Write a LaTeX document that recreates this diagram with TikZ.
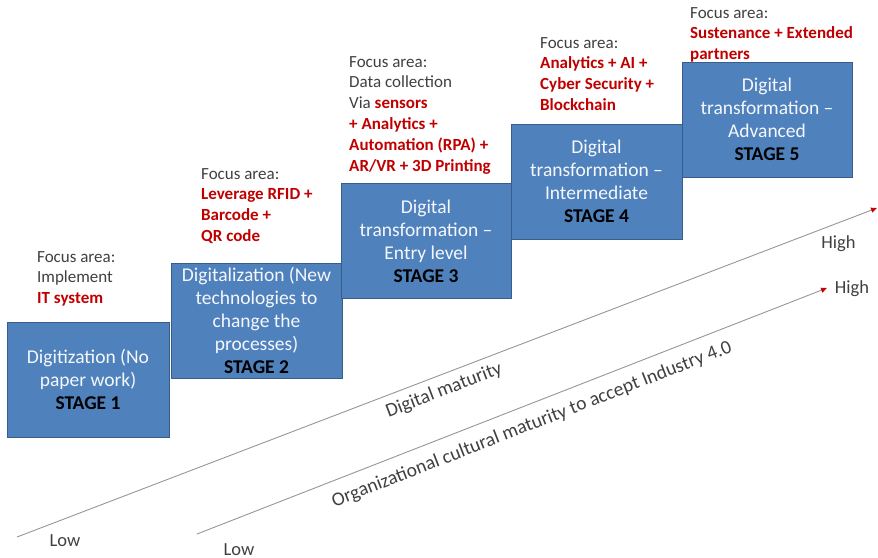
\documentclass[tikz,border=0pt]{standalone}
\usepackage{fontspec}
\setmainfont{Carlito}
\usepackage{xcolor}
\usetikzlibrary{arrows.meta,positioning}
\definecolor{stageblue}{RGB}{79,129,189}
\definecolor{stageedge}{RGB}{56,93,138}
\definecolor{focusred}{RGB}{192,0,0}
\definecolor{focusgray}{RGB}{64,64,64}
\definecolor{axisgray}{RGB}{150,150,150}
\newcommand{\hl}[1]{\textcolor{focusred}{\textbf{#1}}}

\begin{document}
\begin{tikzpicture}[x=1pt,y=-1pt,>={Triangle[length=6pt,width=5pt,color=focusred]},
  stagebox/.style={draw=stageedge,fill=stageblue,text=white!94!stageblue,align=center,inner sep=0pt,font=\fontsize{19.5}{23}\selectfont},
  focus/.style={anchor=north west,align=left,inner sep=0pt,text=focusgray,font=\fontsize{17}{20.8}\selectfont},
  axis/.style={draw=axisgray,line width=.9pt,->},
  lbl/.style={anchor=base,inner sep=0pt,text=focusgray,font=\fontsize{18.5}{20}\selectfont},
  slopelbl/.style={sloped,below,text=focusgray,font=\fontsize{19.5}{22}\selectfont}]
\useasboundingbox (0,0) rectangle (878,557);
\foreach \n/\x/\y/\w/\txt in {1/88/379.5/162/{Digitization (No\\paper work)},
  2/256.5/320.5/171/{Digitalization (New\\technologies to\\change the\\processes)},
  3/426/241/170/{Digital\\transformation –\\Entry level},
  4/596.5/181.5/171/{Digital\\transformation –\\Intermediate},
  5/767/119.5/170/{Digital\\transformation –\\Advanced}}{
  \node[stagebox,minimum width=\w,minimum height=115] (s\n) at (\x,\y) {\txt\\\textcolor{black}{\textbf{STAGE \n}}};}
% focus areas above the steps
\node[focus] (f1) at (37,251) {Focus area:\\Implement\\\hl{IT system}};
\node[focus] (f2) at (201,168) {Focus area:\\\hl{Leverage RFID +}\\\hl{Barcode +}\\\hl{QR code}};
\node[focus] (f3) at (349,56) {Focus area:\\Data collection\\Via \hl{sensors}\\\hl{+ Analytics +}\\\hl{Automation (RPA) +}\\\hl{AR/VR + 3D Printing}};
\node[focus] (f4) at (540,37) {Focus area:\\\hl{Analytics + AI +}\\\hl{Cyber Security +}\\\hl{Blockchain}};
\node[focus] (f5) at (690,7) {Focus area:\\\hl{Sustenance + Extended}\\\hl{partners}};
% maturity axes
\coordinate (lo1) at (17,537);
\coordinate (hi1) at (877,208);
\coordinate (lo2) at (197,534);
\coordinate (hi2) at (827,288);
\draw[axis] (lo1) -- node[slopelbl,pos=.49,inner sep=7pt] (dm) {Digital maturity} (hi1);
\draw[axis] (lo2) -- node[slopelbl,pos=.52,inner sep=11pt] (om) {Organizational cultural maturity to accept Industry 4.0} (hi2);
\node[lbl] (low1) at (65,546) {Low};
\node[lbl] (low2) at (239,555) {Low};
\node[lbl] (high1) at (838.5,248) {High};
\node[lbl] (high2) at (852,293) {High};
\end{tikzpicture}
\end{document}
